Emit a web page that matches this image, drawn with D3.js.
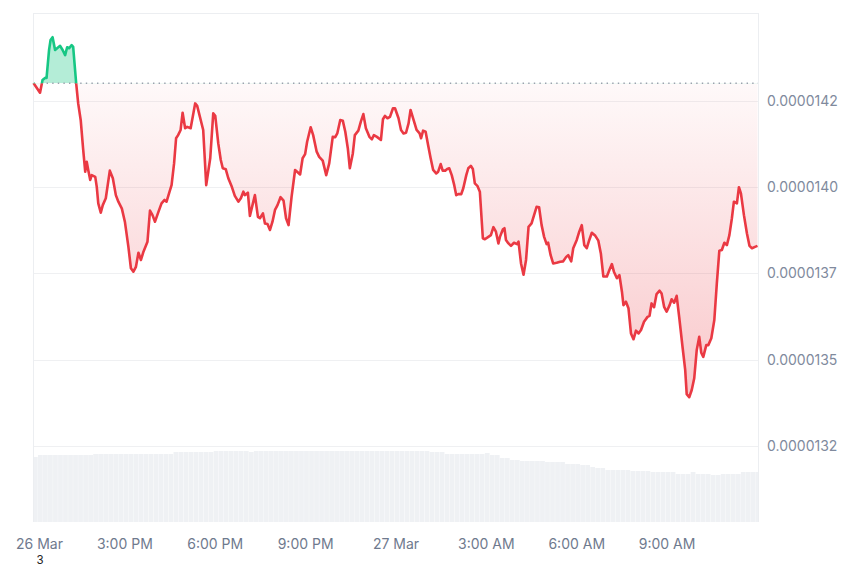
<!DOCTYPE html>
<html><head><meta charset="utf-8">
<script src="https://cdn.jsdelivr.net/npm/d3@7"></script>
<style>body{margin:0;background:#fff;} svg{display:block;font-family:Inter, "Noto Sans", sans-serif;}</style>
</head><body><svg id="c" width="850" height="567"></svg>
<script>
// ---- data ----
const START = new Date(2025, 2, 26, 11, 57);   // first sample time
const END_MINUTE = 1444;                        // minutes covered by the x axis
const minutes = [1,14,19,24,27,32,35,39,44,48,54,59,64,68,72,77,80,86,90,95,100,104,107,110,114,117,124,127,130,135,139,145,153,159,165,170,177,183,190,195,200,205,210,215,220,228,233,238,243,250,256,262,266,272,276,281,285,289,294,298,303,307,314,323,327,339,345,353,359,363,369,374,378,384,389,396,402,409,414,419,422,428,432,438,442,448,452,458,462,467,472,477,482,487,493,499,504,509,515,522,526,532,537,542,546,553,558,565,570,577,584,590,597,602,606,612,617,622,627,631,637,641,648,653,658,663,670,675,679,685,693,697,701,706,711,717,721,728,733,738,743,748,752,758,764,770,773,777,782,787,792,797,803,807,812,816,821,825,829,834,839,843,847,853,857,863,867,872,876,880,885,890,896,900,907,912,917,922,927,930,936,939,942,947,952,958,964,967,972,977,982,987,993,998,1003,1008,1013,1018,1023,1026,1031,1036,1043,1050,1056,1062,1066,1072,1076,1083,1088,1093,1098,1103,1108,1113,1120,1126,1131,1136,1143,1148,1153,1157,1163,1168,1173,1176,1181,1186,1191,1196,1201,1206,1211,1217,1224,1228,1232,1237,1242,1248,1252,1257,1262,1268,1272,1277,1282,1287,1294,1299,1302,1307,1312,1317,1322,1327,1331,1335,1341,1345,1351,1357,1362,1367,1372,1377,1382,1387,1392,1396,1402,1406,1410,1416,1422,1427,1432,1438,1443];
// prices in units of 1e-5
const pricesE5 = [1.4252,1.4224,1.4261,1.4267,1.4267,1.4348,1.4377,1.4385,1.4348,1.4353,
1.4360,1.4348,1.4333,1.4356,1.4353,1.4362,1.4357,1.4251,1.4193,1.4145,
1.4058,1.3995,1.4024,1.4000,1.3971,1.3985,1.3980,1.3951,1.3903,1.3876,
1.3898,1.3918,1.3998,1.3976,1.3927,1.3908,1.3888,1.3850,1.3777,1.3715,
1.3705,1.3719,1.3760,1.3739,1.3763,1.3792,1.3882,1.3869,1.3850,1.3879,
1.3903,1.3913,1.3908,1.3937,1.3956,1.4019,1.4092,1.4101,1.4116,1.4166,
1.4121,1.4125,1.4121,1.4193,1.4186,1.4116,1.3956,1.4034,1.4164,1.4157,
1.4077,1.4029,1.4005,1.4002,1.3976,1.3951,1.3925,1.3908,1.3918,1.3937,
1.3927,1.3934,1.3867,1.3903,1.3927,1.3864,1.3860,1.3874,1.3845,1.3843,
1.3826,1.3850,1.3884,1.3898,1.3921,1.3911,1.3860,1.3840,1.3922,1.4000,
1.3995,1.3987,1.4034,1.4046,1.4082,1.4124,1.4101,1.4053,1.4038,1.4027,
1.3985,1.4019,1.4096,1.4095,1.4106,1.4145,1.4143,1.4111,1.4063,1.4005,
1.4048,1.4101,1.4114,1.4140,1.4162,1.4121,1.4096,1.4089,1.4101,1.4096,
1.4087,1.4147,1.4157,1.4150,1.4154,1.4179,1.4179,1.4150,1.4116,1.4106,
1.4108,1.4135,1.4174,1.4145,1.4116,1.4106,1.4092,1.4114,1.4111,1.4072,
1.4034,1.4000,1.3990,1.3995,1.4017,1.3998,1.3998,1.4003,1.4005,1.3985,
1.3956,1.3927,1.3930,1.3930,1.3947,1.3985,1.4005,1.4012,1.4003,1.3961,
1.3954,1.3937,1.3802,1.3799,1.3806,1.3811,1.3834,1.3821,1.3787,1.3806,
1.3828,1.3831,1.3797,1.3787,1.3780,1.3789,1.3785,1.3792,1.3729,1.3696,
1.3739,1.3835,1.3845,1.3869,1.3893,1.3892,1.3840,1.3806,1.3785,1.3789,
1.3753,1.3729,1.3731,1.3734,1.3735,1.3748,1.3753,1.3735,1.3773,1.3797,
1.3821,1.3840,1.3782,1.3773,1.3797,1.3818,1.3809,1.3795,1.3758,1.3691,
1.3691,1.3710,1.3727,1.3705,1.3686,1.3695,1.3647,1.3608,1.3618,1.3599,
1.3526,1.3509,1.3534,1.3526,1.3536,1.3560,1.3574,1.3577,1.3613,1.3602,
1.3640,1.3650,1.3642,1.3603,1.3589,1.3608,1.3625,1.3615,1.3635,1.3574,
1.3483,1.3420,1.3350,1.3341,1.3362,1.3396,1.3478,1.3516,1.3470,1.3458,
1.3492,1.3492,1.3512,1.3565,1.3671,1.3766,1.3768,1.3789,1.3782,1.3811,
1.3860,1.3908,1.3903,1.3950,1.3932,1.3869,1.3816,1.3780,1.3773,1.3777,
1.3780];
const openPriceE5 = 1.42513;
const volumeStepMinutes = 10;
const volumes = [65,
67,67,67,67,67,67,67,67,67,67,67,
68,68,68,68,68,68,68,68,68,68,68,68,68,68,68,68,
70,70,70,70,70,70,70,70,
71,71,71,71,71,71,71,
70,
71,71,71,71,71,71,71,71,71,71,71,71,71,71,71,71,71,71,71,71,71,71,71,71,71,71,71,71,71,71,71,71,71,71,71,
70,70,70,
68,68,68,68,68,68,68,68,
69,67,67,64,64,62,62,
61,61,61,61,61,
60,60,60,60,
58,58,58,57,57,55,54,54,
52,52,52,52,52,
51,51,51,51,
50,50,50,50,50,
48,48,48,50,48,48,48,47,47,
48,48,48,48,
50,50,50,50];
const yTickValuesE5 = [1.42, 1.395, 1.37, 1.345, 1.32];
const yTickLabels = ["0.0000142","0.0000140","0.0000137","0.0000135","0.0000132"];
const xTickMinutes = [3,183,363,543,723,903,1083,1263];
const xTickLabels = ["26 Mar","3:00 PM","6:00 PM","9:00 PM","27 Mar","3:00 AM","6:00 AM","9:00 AM"];
const strayLabel = "3";

// ---- drawing ----
const E5 = 1e-5;
const svg = d3.select("#c");
const L = 33, R = 758, T = 13, B = 521, VB = 522;
const t = mm => new Date(START.getTime() + mm * 60000);
const x = d3.scaleTime().domain([t(0), t(END_MINUTE)]).range([L, R]);
const y = d3.scaleLinear().domain([1.29820 * E5, 1.44552 * E5]).range([B, T]);
const yv = d3.scaleLinear().domain([0, 71]).range([VB, VB - 71]);

const data = d3.zip(minutes, pricesE5).map(([m, p]) => ({ date: t(m), price: p * E5 }));
const yOpen = y(openPriceE5 * E5);

const defs = svg.append("defs");
defs.append("clipPath").attr("id", "plot").append("rect").attr("x", L).attr("y", T).attr("width", R - L).attr("height", VB - T);
defs.append("clipPath").attr("id", "above").append("rect").attr("x", L - 2).attr("y", 0).attr("width", R - L + 4).attr("height", yOpen);
defs.append("clipPath").attr("id", "below").append("rect").attr("x", L - 2).attr("y", yOpen).attr("width", R - L + 4).attr("height", 567 - yOpen);
const grad = defs.append("linearGradient").attr("id", "redFill").attr("gradientUnits", "userSpaceOnUse")
  .attr("x1", 0).attr("x2", 0).attr("y1", yOpen).attr("y2", B);
grad.append("stop").attr("offset", 0).attr("stop-color", "#ea3943").attr("stop-opacity", 0.03);
grad.append("stop").attr("offset", 1).attr("stop-color", "#ea3943").attr("stop-opacity", 0.38);

// grid
svg.append("g").selectAll("line").data(yTickValuesE5).join("line")
  .attr("x1", L).attr("x2", R)
  .attr("y1", d => Math.round(y(d * E5)) + 0.5).attr("y2", d => Math.round(y(d * E5)) + 0.5)
  .attr("stroke", "#eff0f2").attr("stroke-width", 1);

// volume bars
svg.append("g").attr("clip-path", "url(#plot)").selectAll("rect").data(volumes).join("rect")
  .attr("x", (v, i) => x(t(i * volumeStepMinutes)))
  .attr("width", (v, i) => x(t((i + 1) * volumeStepMinutes)) - x(t(i * volumeStepMinutes)) - 0.3)
  .attr("y", v => yv(v))
  .attr("height", v => VB - yv(v))
  .attr("fill", "#eff1f4");

// frame
const frame = svg.append("g").attr("stroke", "#eceef1").attr("stroke-width", 1).attr("fill", "none");
frame.append("line").attr("x1", L).attr("x2", R).attr("y1", T + 0.5).attr("y2", T + 0.5);
frame.append("line").attr("x1", L + 0.5).attr("x2", L + 0.5).attr("y1", T).attr("y2", VB);
frame.append("line").attr("x1", R + 0.5).attr("x2", R + 0.5).attr("y1", T).attr("y2", VB);

// areas
const area = d3.area().x(d => x(d.date)).y0(yOpen).y1(d => y(d.price));
svg.append("path").datum(data).attr("clip-path", "url(#below)").attr("d", area).attr("fill", "url(#redFill)");
svg.append("path").datum(data).attr("clip-path", "url(#above)").attr("d", area).attr("fill", "#16c784").attr("fill-opacity", 0.32);

// open price reference
svg.append("line").attr("x1", L + 8).attr("x2", R).attr("y1", yOpen).attr("y2", yOpen)
  .attr("stroke", "#9aa1ad").attr("stroke-width", 1.4).attr("stroke-dasharray", "1.4,4.2");

// lines
const line = d3.line().x(d => x(d.date)).y(d => y(d.price));
svg.append("path").datum(data).attr("clip-path", "url(#below)").attr("d", line)
  .attr("fill", "none").attr("stroke", "#ea3943").attr("stroke-width", 2.6).attr("stroke-linejoin", "round");
svg.append("path").datum(data).attr("clip-path", "url(#above)").attr("d", line)
  .attr("fill", "none").attr("stroke", "#16c784").attr("stroke-width", 2.6).attr("stroke-linejoin", "round");

// y labels
svg.append("g").selectAll("text").data(yTickValuesE5).join("text")
  .attr("x", 767).attr("y", d => y(d * E5)).attr("dy", "0.36em")
  .attr("font-size", 14).attr("fill", "#808a9d")
  .text((d, i) => yTickLabels[i]);

// x labels
svg.append("g").selectAll("text").data(xTickMinutes).join("text")
  .attr("x", (m, i) => x(t(m)) + (i === 0 ? 5 : 0)).attr("y", 549)
  .attr("text-anchor", "middle").attr("font-size", 14).attr("fill", "#6f7a8e")
  .text((m, i) => xTickLabels[i]);

svg.append("text").attr("x", 40).attr("y", 564).attr("text-anchor", "middle")
  .attr("font-family", "'Liberation Sans', Arial, sans-serif").attr("font-size", 12).attr("fill", "#222")
  .text(strayLabel);
</script></body></html>
